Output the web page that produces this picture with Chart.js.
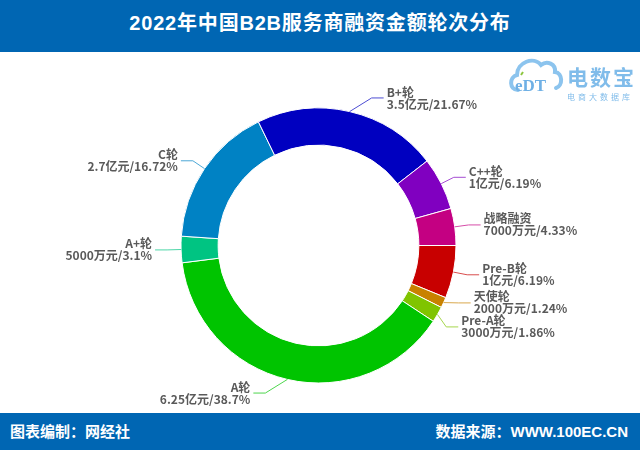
<!DOCTYPE html>
<html>
<head>
<meta charset="utf-8">
<script src="https://cdn.jsdelivr.net/npm/chart.js@4.4.1/dist/chart.umd.min.js"></script>
<style>
  body { margin: 0; background: #fff; }
  #wrap { position: relative; width: 640px; height: 450px; overflow: hidden; background: #fff;
          font-family: Arial, "Liberation Sans", "Noto Sans CJK SC", sans-serif; }
  .bar { position: absolute; left: 0; width: 640px; background: #0066b3; color: #fff; font-weight: bold; z-index: 2; }
  #head { top: 0; height: 52px; }
  #head span { position: absolute; left: 0; right: 0; top: 11px; text-align: center;
               font-size: 20px; line-height: 24px; letter-spacing: 0.8px; }
  #foot { top: 413px; height: 37px; font-size: 15px; line-height: 37px; }
  #foot .l { position: absolute; left: 10px; }
  #foot .r { position: absolute; right: 12px; }
  #donut { position: absolute; left: 0; top: 0; z-index: 1; }
  #logo { position: absolute; left: 506px; top: 50px; width: 134px; height: 52px; z-index: 2; }
  #logo .big { position: absolute; left: 61px; top: 14px; font-size: 21px; font-weight: bold;
               color: #80bcea; letter-spacing: 2px; font-family: "Noto Sans CJK SC", sans-serif; line-height: 24px; }
  #logo .small { position: absolute; left: 61px; top: 42px; font-size: 8px; color: #80bcea;
                 letter-spacing: 3px; font-family: "Noto Sans CJK SC", sans-serif; line-height: 10px; }
</style>
</head>
<body>
<div id="wrap">
  <div id="head" class="bar"><span>2022年中国B2B服务商融资金额轮次分布</span></div>
  <canvas id="donut" width="640" height="450"></canvas>
  <div id="logo">
    <svg width="60" height="46" viewBox="0 0 60 46">
      <path d="M12,40 C3,40 3,27 11,25 C11,12 28,6 35,15 C41,10 50,14 49,22 C57,23 57,36 50,38"
            fill="none" stroke="#8cc4ee" stroke-width="4" stroke-linecap="round"/>
      <text x="9" y="41" font-family="Liberation Serif, serif" font-size="17" font-weight="bold" fill="#6fb0e5">eDT</text>
      <path d="M15,25 l2,-3" stroke="#8dc63f" stroke-width="2"/>
    </svg>
    <div class="big">电数宝</div>
    <div class="small">电商大数据库</div>
  </div>
  <div id="foot" class="bar"><span class="l">图表编制：网经社</span><span class="r">数据来源：WWW.100EC.CN</span></div>
</div>

<script>
// Rounds, clockwise from 3 o'clock
const roundNames = ['Pre-B轮', '天使轮', 'Pre-A轮', 'A轮', 'A+轮', 'C轮', 'B+轮', 'C++轮', '战略融资'];
// Amounts in 万元
const amounts = [10000, 2000, 3000, 62500, 5000, 27000, 35000, 10000, 7000];

// Slice colors
const sliceColors = ['#c80000', '#c88200', '#80c400', '#00c400', '#00c482', '#0082c4', '#0000c0', '#8000c0', '#c40082'];

const donutCanvas = document.getElementById('donut');

// lighter shade for leader lines
function lighten(hex, k) {
  const n = parseInt(hex.slice(1), 16);
  const r = (n >> 16) & 255, g = (n >> 8) & 255, b = n & 255;
  const f = c => Math.round(c + (255 - c) * k);
  return `rgb(${f(r)},${f(g)},${f(b)})`;
}

function amountText(v) {
  return v >= 10000 ? (v / 10000) + '亿元' : v + '万元';
}

// Outside labels with leader lines
const labelPlugin = {
  id: 'roundLabels',
  afterDatasetsDraw(chart) {
    const ctx = chart.ctx;
    const meta = chart.getDatasetMeta(0);
    const values = chart.data.datasets[0].data;
    const total = values.reduce((a, b) => a + b, 0);
    const len1 = 14, len2 = 12, minGap = 24;

    const items = meta.data.map((arc, i) => {
      const p = arc.getProps(['x', 'y', 'startAngle', 'endAngle', 'outerRadius'], true);
      const mid = (p.startAngle + p.endAngle) / 2;
      const cos = Math.cos(mid), sin = Math.sin(mid);
      return {
        i, cx: p.x, cy: p.y, r: p.outerRadius, cos, sin,
        sx: p.x + cos * p.outerRadius,
        sy: p.y + sin * p.outerRadius,
        ey: p.y + sin * (p.outerRadius + len1),
        side: cos >= 0 ? 1 : -1
      };
    });

    // push apart labels that sit too close on the same side
    [1, -1].forEach(side => {
      const list = items.filter(d => d.side === side).sort((a, b) => a.ey - b.ey);
      for (let k = 0; k < 10; k++) {
        for (let j = 1; j < list.length; j++) {
          const gap = list[j].ey - list[j - 1].ey;
          if (gap < minGap) {
            const push = (minGap - gap) / 2;
            list[j - 1].ey -= push;
            list[j].ey += push;
          }
        }
      }
    });

    ctx.save();
    items.forEach(d => {
      const R = d.r + len1;
      const dy = d.ey - d.cy;
      let ex = d.cx + d.side * Math.sqrt(Math.max(R * R - dy * dy, 0));
      if (Math.abs(d.cos) < 0.3) ex = d.sx + d.side * 22;
      const endX = ex + d.side * len2;

      ctx.strokeStyle = lighten(sliceColors[d.i], 0.3);
      ctx.lineWidth = 1;
      ctx.beginPath();
      ctx.moveTo(d.sx, d.sy);
      ctx.lineTo(ex, d.ey);
      ctx.lineTo(endX, d.ey);
      ctx.stroke();

      const pct = parseFloat((values[d.i] / total * 100).toFixed(2));
      ctx.fillStyle = '#5a5a5a';
      ctx.font = 'bold 12px "Noto Sans CJK SC", "Liberation Sans", sans-serif';
      ctx.textAlign = d.side > 0 ? 'left' : 'right';
      ctx.textBaseline = 'middle';
      const tx = endX + d.side * 3;
      ctx.fillText(chart.data.labels[d.i], tx, d.ey - 6);
      ctx.fillText(amountText(values[d.i]) + '/' + pct + '%', tx, d.ey + 6);
    });
    ctx.restore();
  }
};

new Chart(donutCanvas, {
  type: 'doughnut',
  data: {
    labels: roundNames,
    datasets: [{
      data: amounts,
      backgroundColor: sliceColors,
      borderColor: '#ffffff',
      borderWidth: 1,
      hoverOffset: 0
    }]
  },
  options: {
    responsive: false,
    animation: false,
    rotation: 90,
    radius: 137.5,
    cutout: 100,
    layout: { padding: { left: 181, right: 184, top: 108, bottom: 67 } },
    plugins: {
      legend: { display: false },
      tooltip: { enabled: false }
    }
  },
  plugins: [labelPlugin]
});
</script>
</body>
</html>
